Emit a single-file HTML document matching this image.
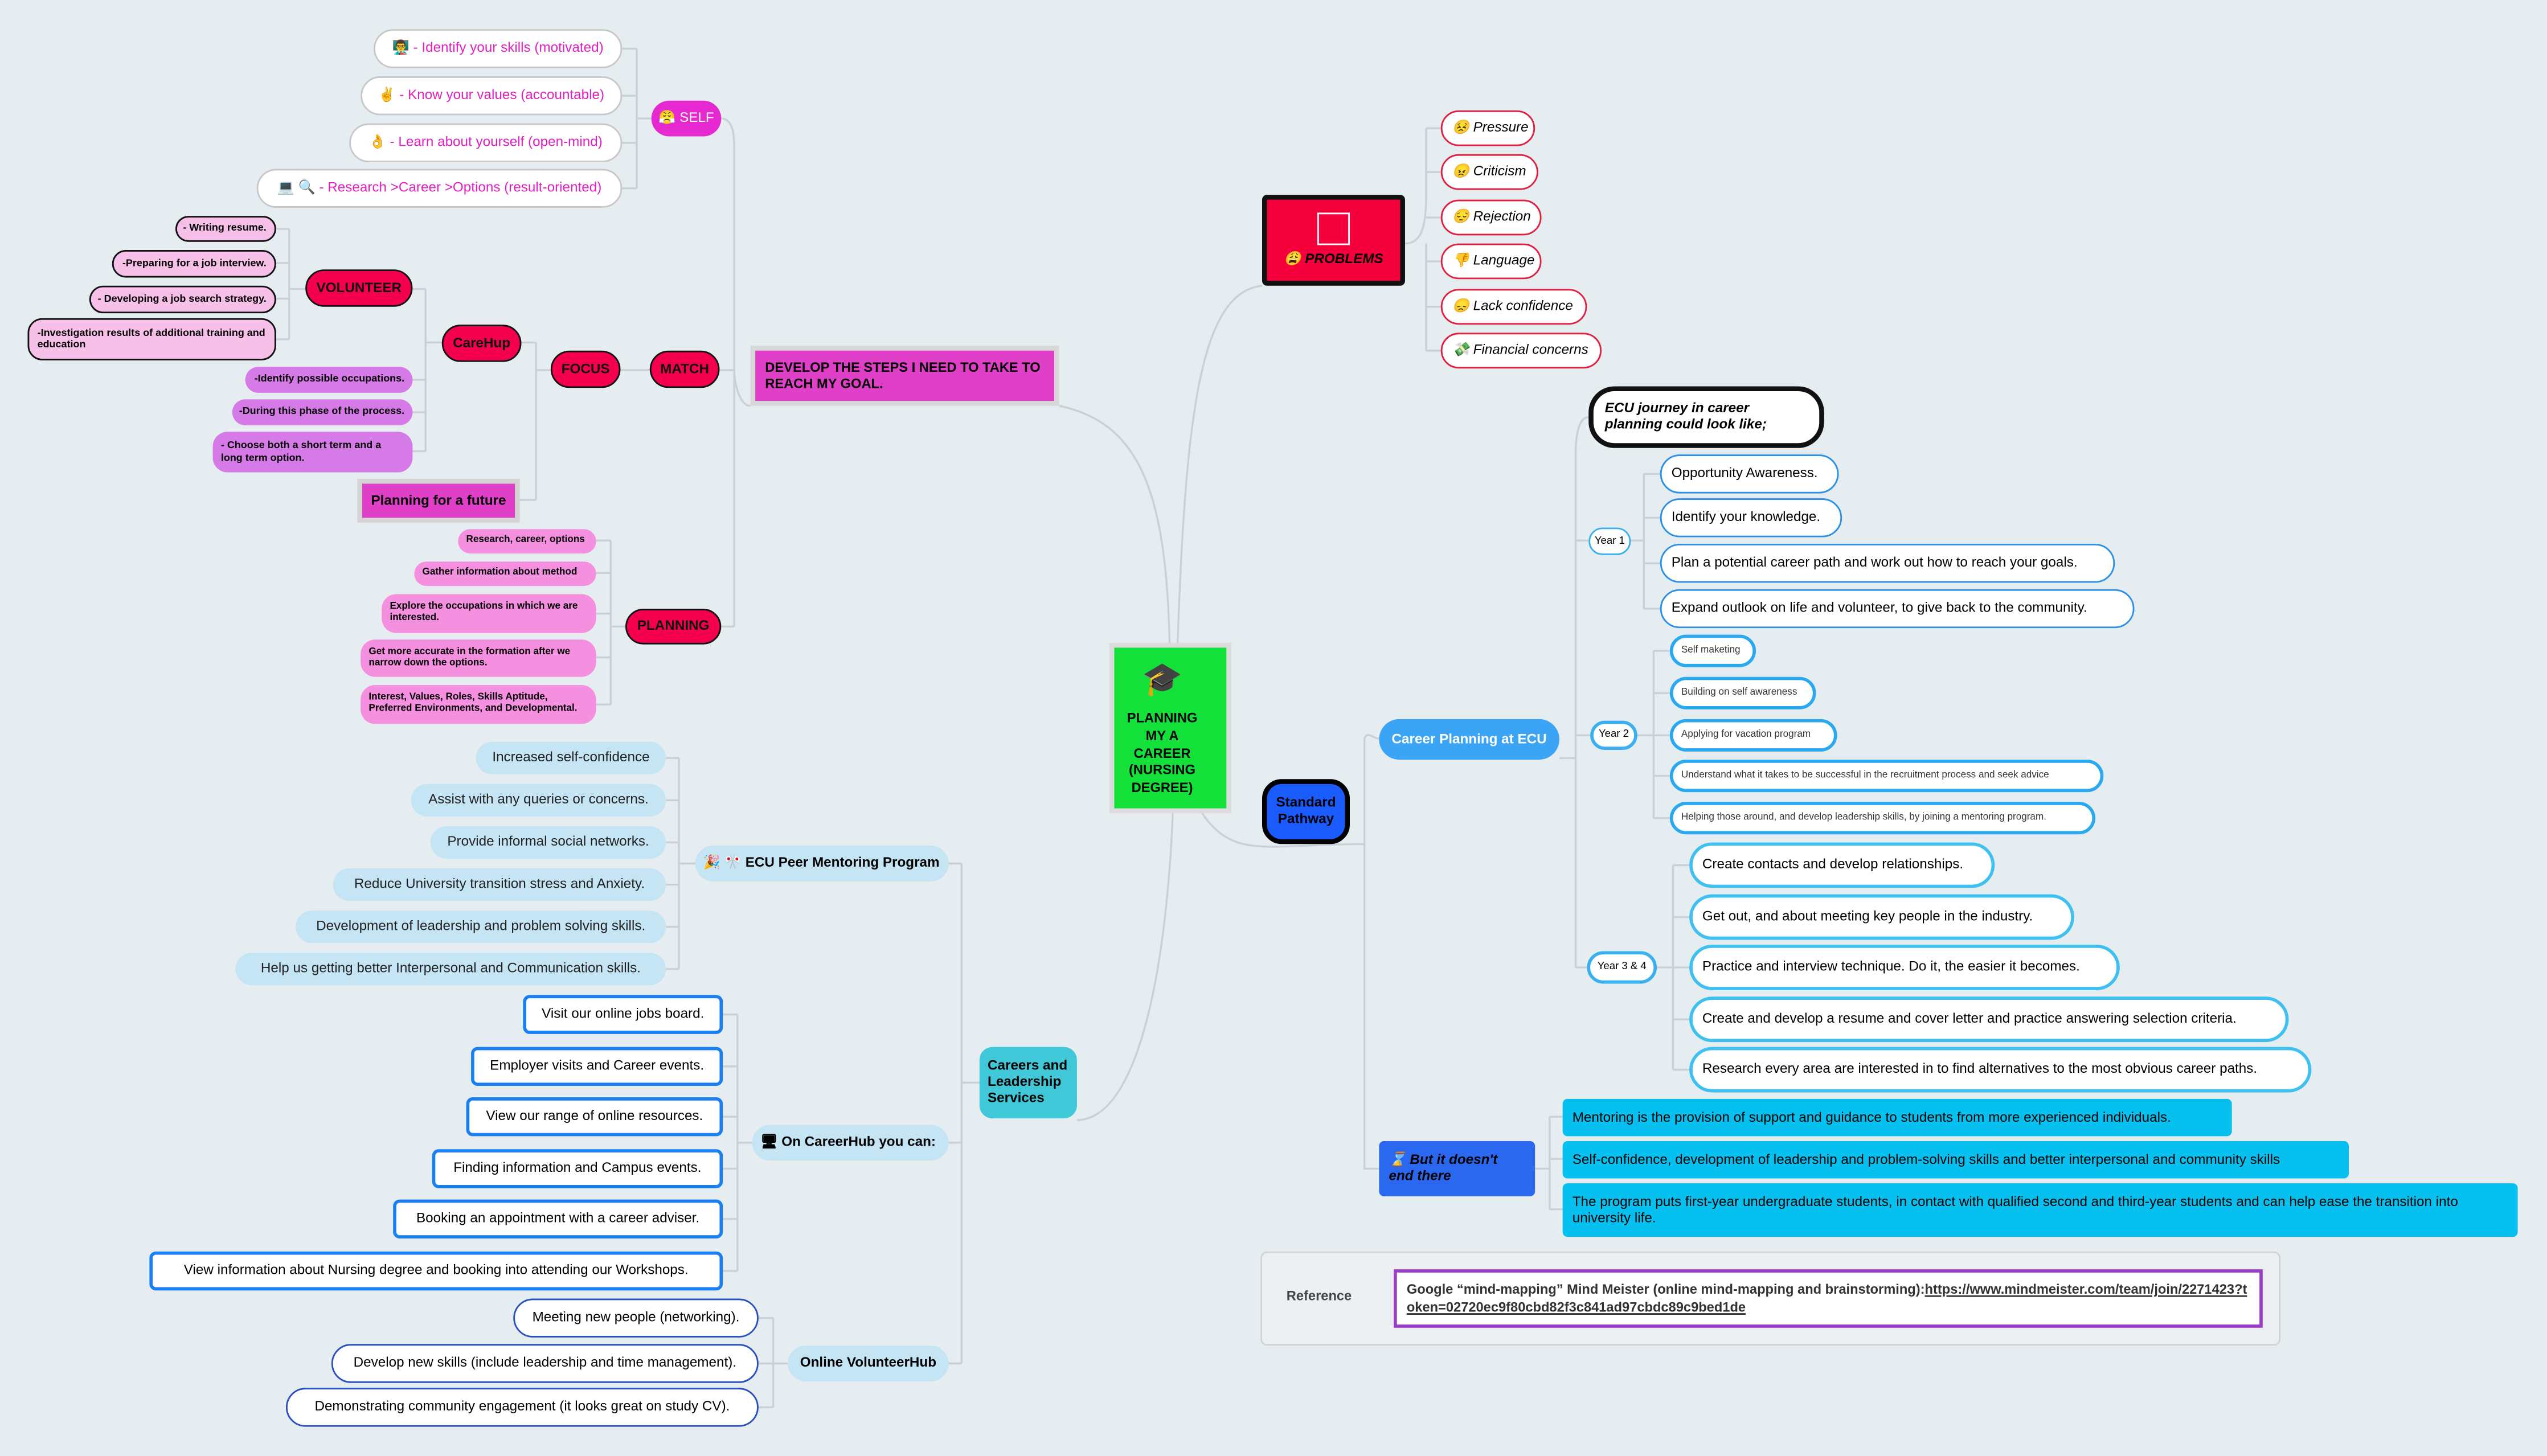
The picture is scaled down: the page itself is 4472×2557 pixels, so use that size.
<!DOCTYPE html>
<html><head><meta charset="utf-8"><style>
html,body{margin:0;padding:0;}
body{width:4472px;height:2557px;overflow:hidden;background:#e5edf0;font-family:"Liberation Sans",sans-serif;}
#s{position:absolute;left:0;top:0;width:1568px;height:897px;transform:scale(2.852,2.8506);transform-origin:0 0;}
.n{position:absolute;display:flex;align-items:center;box-sizing:border-box;font-size:8.5px;white-space:nowrap;line-height:1.15;}
.c{justify-content:center;text-align:center;}
.r{background:#f5004e;border:1.5px solid #111;border-radius:12px;font-weight:bold;color:#111;justify-content:center;font-size:8.5px;}
.pk{background:#f7c0e8;border:1px solid #111;border-radius:9px;font-weight:bold;font-size:6.3px;padding:0 5px;justify-content:flex-end;}
.vi{background:#d67ae8;border-radius:9px;font-weight:bold;font-size:6.3px;padding:0 5px;justify-content:flex-end;}
.pl{background:#f590e0;border-radius:9px;font-weight:bold;font-size:6px;padding:0 5px;white-space:normal;}
.sf{background:#fff;border:1px solid #c8c8c8;border-radius:12px;color:#e020c0;padding:0 6px;justify-content:center;}
.pb{background:#fff;border:1px solid #e02040;border-radius:11px;font-style:italic;padding:0 6px;}
.y1{background:#fff;border:1px solid #2a90e8;border-radius:12px;padding:0 6px;}
.y2{background:#fff;border:2.5px solid #2aa8f0;border-radius:10px;padding:0 5px;font-size:6px;color:#333;}
.y3{background:#fff;border:2.5px solid #3ec0f0;border-radius:14px;padding:0 6px;}
.yp{background:#fff;border:1.5px solid #3ab0f0;border-radius:10px;font-size:6.5px;justify-content:center;}
.cy{background:#06c0f0;border-radius:3px;padding:0 6px;}
.lb{background:#c5e4f4;border-radius:10px;padding:0 6px;justify-content:center;color:#222;}
.ch{background:#fff;border:2.5px solid #1a7ff0;border-radius:4px;padding:0 6px;justify-content:center;}
.vh{background:#fff;border:1px solid #2a50c0;border-radius:12px;padding:0 6px;justify-content:center;}
</style></head><body><div id="s">
<svg width="1568" height="897" style="position:absolute;left:0;top:0" fill="none" stroke="#c9d1d6" stroke-width="1.2">
<path d="M720,396 C718,300 700,260 652,250"/>
<path d="M725,396 C730,250 740,180 777,176"/>
<path d="M740,501 C760,530 780,520 840,520 L840,455 C842,450 845,455 849,455"/>
<path d="M840,520 L840,720 C842,720 845,720 849,720"/>
<path d="M722,501 C718,600 700,690 663,690"/>
<path d="M865,150 C875,150 878,140 878,120 L878,79 M878,150 L878,216"/>
<path d="M878,79 H887 M878,106 H887 M878,134 H887 M878,161 H887 M878,189 H887 M878,216 H887"/>
<path d="M960,467 L970,467 M970,280 L970,596 M970,280 C970,268 972,257 978,257 M970,333 H978 M970,453 H979 M970,596 H977"/>
<path d="M1012,292 L1012,375 M1004,333 H1012 M1012,292 H1022 M1012,319 H1022 M1012,347 H1022 M1012,375 H1022"/>
<path d="M1018,401 L1018,504 M1008,453 H1018 M1018,401 H1028 M1018,427 H1028 M1018,453 H1028 M1018,478 H1028 M1018,504 H1028"/>
<path d="M1030,533 L1030,659 M1020,596 H1030 M1030,533 H1040 M1030,565 H1040 M1030,596 H1040 M1030,628 H1040 M1030,659 H1040"/>
<path d="M945,720 L954,720 M954,688 L954,745 M954,688 H962 M954,714 H962 M954,745 H962"/>
<path d="M462,250 C455,250 452,235 452,228 M444,73 C450,73 452,80 452,90 L452,386 M452,228 H443 M444,386 H452"/>
<path d="M400,228 H382"/>
<path d="M339,228 L330,228 M330,211 L330,308 M330,211 H321 M330,308 H320"/>
<path d="M272,211 H262 M262,178 L262,278 M254,178 H262 M254,234 H262 M254,254 H262 M254,278 H262"/>
<path d="M188,178 H178 M178,141 L178,209 M170,141 H178 M170,162 H178 M170,184 H178 M170,209 H178"/>
<path d="M385,386 H376 M376,333 L376,434 M367,333 H376 M367,353 H376 M367,378 H376 M367,405 H376 M367,434 H376"/>
<path d="M401,73 H392 M392,30 L392,116 M383,30 H392 M383,59 H392 M383,88 H392 M383,116 H392"/>
<path d="M603,667 H592 M592,532 L592,840 M584,532 H592 M584,704 H592 M584,840 H592"/>
<path d="M428,532 H418 M418,467 L418,597 M410,467 H418 M410,493 H418 M410,519 H418 M410,545 H418 M410,571 H418 M410,597 H418"/>
<path d="M463,704 H454 M454,625 L454,783 M445,625 H454 M445,657 H454 M445,688 H454 M445,720 H454 M445,751 H454 M445,783 H454"/>
<path d="M485,840 H476 M476,812 L476,867 M467,812 H476 M467,840 H476 M467,867 H476"/>
<path d="M784,812 H850"/>
</svg>

<div class="n" style="left:683px;top:396px;width:75px;height:105px;background:#dcdcdc"></div>
<div class="n c" style="left:686px;top:399px;width:69px;height:99px;background:#14e03a;flex-direction:column;font-weight:bold;font-size:8.3px;padding-top:8px;justify-content:flex-start;padding-right:10px">
<div style="font-size:20px;line-height:24px">🎓</div><div style="margin-top:6px;line-height:1.3">PLANNING<br>MY A<br>CAREER<br>(NURSING<br>DEGREE)</div></div>

<div class="n c" style="left:777px;top:120px;width:88px;height:56px;background:#f5003c;border:3px solid #111;border-radius:3px;font-weight:bold;font-style:italic;flex-direction:column">
<div style="width:18px;height:18px;border:1px solid #fff;margin-bottom:4px"></div><div>😩 PROBLEMS</div></div>
<div class="n pb" style="left:887px;top:68px;width:58px;height:22px">😣 Pressure</div>
<div class="n pb" style="left:887px;top:95px;width:60px;height:22px">😠 Criticism</div>
<div class="n pb" style="left:887px;top:123px;width:62px;height:22px">😔 Rejection</div>
<div class="n pb" style="left:887px;top:150px;width:62px;height:22px">👎 Language</div>
<div class="n pb" style="left:887px;top:178px;width:90px;height:22px">😞 Lack confidence</div>
<div class="n pb" style="left:887px;top:205px;width:99px;height:22px">💸 Financial concerns</div>

<div class="n" style="left:978px;top:238px;width:145px;height:38px;background:#fff;border:3px solid #111;border-radius:16px;font-weight:bold;font-style:italic;padding:0 7px;white-space:normal">ECU journey in career planning could look like;</div>
<div class="n yp" style="left:978px;top:325px;width:26px;height:17px">Year 1</div>
<div class="n y1" style="left:1022px;top:280px;width:110px;height:24px">Opportunity Awareness.</div>
<div class="n y1" style="left:1022px;top:307px;width:112px;height:24px">Identify your knowledge.</div>
<div class="n y1" style="left:1022px;top:335px;width:280px;height:24px">Plan a potential career path and work out how to reach your goals.</div>
<div class="n y1" style="left:1022px;top:363px;width:292px;height:24px">Expand outlook on life and volunteer, to give back to the community.</div>

<div class="n c" style="left:849px;top:443px;width:111px;height:25px;background:#3ba4f5;border-radius:13px;color:#fff;font-weight:bold">Career Planning at ECU</div>
<div class="n yp" style="left:979px;top:444px;width:29px;height:18px;border-width:2.5px">Year 2</div>
<div class="n y2" style="left:1028px;top:391px;width:53px;height:20px">Self maketing</div>
<div class="n y2" style="left:1028px;top:417px;width:90px;height:20px">Building on self awareness</div>
<div class="n y2" style="left:1028px;top:443px;width:103px;height:20px">Applying for vacation program</div>
<div class="n y2" style="left:1028px;top:468px;width:267px;height:20px">Understand what it takes to be successful in the recruitment process and seek advice</div>
<div class="n y2" style="left:1028px;top:494px;width:262px;height:20px">Helping those around, and develop leadership skills, by joining a mentoring program.</div>

<div class="n yp" style="left:977px;top:586px;width:43px;height:20px;border-width:2.5px">Year 3 &amp; 4</div>
<div class="n y3" style="left:1040px;top:519px;width:188px;height:28px">Create contacts and develop relationships.</div>
<div class="n y3" style="left:1040px;top:551px;width:237px;height:28px">Get out, and about meeting key people in the industry.</div>
<div class="n y3" style="left:1040px;top:582px;width:265px;height:28px">Practice and interview technique. Do it, the easier it becomes.</div>
<div class="n y3" style="left:1040px;top:614px;width:369px;height:28px">Create and develop a resume and cover letter and practice answering selection criteria.</div>
<div class="n y3" style="left:1040px;top:645px;width:383px;height:28px">Research every area are interested in to find alternatives to the most obvious career paths.</div>

<div class="n c" style="left:777px;top:480px;width:54px;height:40px;background:#1a5cff;border:3px solid #000;border-radius:12px;font-weight:bold;font-size:8.5px">Standard<br>Pathway</div>

<div class="n" style="left:849px;top:703px;width:96px;height:34px;background:#2b68f0;border-radius:3px;font-weight:bold;font-style:italic;padding:0 6px;white-space:normal">⌛ But it doesn't end there</div>
<div class="n cy" style="left:962px;top:677px;width:412px;height:23px">Mentoring is the provision of support and guidance to students from more experienced individuals.</div>
<div class="n cy" style="left:962px;top:703px;width:484px;height:23px">Self-confidence, development of leadership and problem-solving skills and better interpersonal and community skills</div>
<div class="n cy" style="left:962px;top:729px;width:588px;height:33px;white-space:normal">The program puts first-year undergraduate students, in contact with qualified second and third-year students and can help ease the transition into university life.</div>

<div class="n" style="left:776px;top:771px;width:628px;height:58px;background:#eceff1;border:1px solid #d0d4d6;border-radius:4px"></div>
<div class="n" style="left:792px;top:794px;font-weight:bold;color:#444;font-size:8.3px">Reference</div>
<div style="position:absolute;left:858px;top:782px;width:535px;height:36px;box-sizing:border-box;background:#fff;border:2px solid #9b3dc8;padding:5px 6px 0;font-weight:bold;font-size:8.3px;line-height:1.3;color:#333;word-break:break-all">Google “mind-mapping” Mind Meister (online mind-mapping and brainstorming):<u>https://www.mindmeister.com/team/join/2271423?token=02720ec9f80cbd82f3c841ad97cbdc89c9bed1de</u></div>

<div class="n" style="left:462px;top:213px;width:190px;height:37px;background:#d8d8d8"></div>
<div class="n" style="left:465px;top:216px;width:184px;height:31px;background:#e040c8;font-weight:bold;padding:0 6px;white-space:normal;font-size:8.3px">DEVELOP THE STEPS I NEED TO TAKE TO REACH MY GOAL.</div>
<div class="n r" style="left:400px;top:216px;width:43px;height:23px">MATCH</div>
<div class="n r" style="left:339px;top:216px;width:43px;height:23px">FOCUS</div>
<div class="n r" style="left:272px;top:200px;width:49px;height:23px">CareHup</div>
<div class="n r" style="left:188px;top:166px;width:66px;height:23px">VOLUNTEER</div>
<div class="n pk" style="left:108px;top:133px;width:62px;height:16px">- Writing resume.</div>
<div class="n pk" style="left:69px;top:154px;width:101px;height:17px">-Preparing for a job interview.</div>
<div class="n pk" style="left:55px;top:176px;width:115px;height:17px">- Developing a job search strategy.</div>
<div class="n pk" style="left:17px;top:196px;width:153px;height:26px;white-space:normal;justify-content:flex-start">-Investigation results of additional training and education</div>
<div class="n vi" style="left:151px;top:226px;width:103px;height:16px">-Identify possible occupations.</div>
<div class="n vi" style="left:143px;top:246px;width:111px;height:16px">-During this phase of the process.</div>
<div class="n vi" style="left:131px;top:266px;width:123px;height:25px;white-space:normal;justify-content:flex-start">- Choose both a short term and a long term option.</div>
<div class="n" style="left:220px;top:295px;width:100px;height:27px;background:#d4d4d4"></div>
<div class="n c" style="left:223px;top:298px;width:94px;height:21px;background:#e040c8;font-weight:bold">Planning for a future</div>
<div class="n r" style="left:385px;top:375px;width:59px;height:22px">PLANNING</div>
<div class="n pl" style="left:282px;top:326px;width:85px;height:15px">Research, career, options</div>
<div class="n pl" style="left:255px;top:346px;width:112px;height:15px">Gather information about method</div>
<div class="n pl" style="left:235px;top:366px;width:132px;height:24px">Explore the occupations in which we are interested.</div>
<div class="n pl" style="left:222px;top:394px;width:145px;height:23px">Get more accurate in the formation after we narrow down the options.</div>
<div class="n pl" style="left:222px;top:422px;width:145px;height:24px">Interest, Values, Roles, Skills Aptitude, Preferred Environments, and Developmental.</div>
<div class="n c" style="left:401px;top:62px;width:43px;height:22px;background:#e628d0;border-radius:11px;color:#fff">😤 SELF</div>
<div class="n sf" style="left:230px;top:18px;width:153px;height:24px">👨‍🏫 - Identify your skills (motivated)</div>
<div class="n sf" style="left:222px;top:47px;width:161px;height:24px">✌ - Know your values (accountable)</div>
<div class="n sf" style="left:215px;top:76px;width:168px;height:24px">👌 - Learn about yourself (open-mind)</div>
<div class="n sf" style="left:158px;top:104px;width:225px;height:24px">💻 🔍 - Research &gt;Career &gt;Options (result-oriented)</div>

<div class="n c" style="left:603px;top:645px;width:60px;height:44px;background:#40c8d8;border-radius:8px;font-weight:bold;justify-content:flex-start;padding-left:5px;text-align:left">Careers and<br>Leadership<br>Services</div>
<div class="n" style="left:428px;top:521px;width:156px;height:22px;background:#c5e4f4;border-radius:11px;font-weight:bold;padding:0 5px">🎉 🎌 ECU Peer Mentoring Program</div>
<div class="n lb" style="left:293px;top:457px;width:117px;height:20px">Increased self-confidence</div>
<div class="n lb" style="left:253px;top:483px;width:157px;height:20px">Assist with any queries or concerns.</div>
<div class="n lb" style="left:265px;top:509px;width:145px;height:20px">Provide informal social networks.</div>
<div class="n lb" style="left:205px;top:535px;width:205px;height:20px">Reduce University transition stress and Anxiety.</div>
<div class="n lb" style="left:182px;top:561px;width:228px;height:20px">Development of leadership and problem solving skills.</div>
<div class="n lb" style="left:145px;top:587px;width:265px;height:20px">Help us getting better Interpersonal and Communication skills.</div>
<div class="n" style="left:463px;top:693px;width:121px;height:22px;background:#c5e4f4;border-radius:11px;font-weight:bold;padding:0 5px">🖥 On CareerHub you can:</div>
<div class="n ch" style="left:322px;top:613px;width:123px;height:24px">Visit our online jobs board.</div>
<div class="n ch" style="left:290px;top:645px;width:155px;height:24px">Employer visits and Career events.</div>
<div class="n ch" style="left:287px;top:676px;width:158px;height:24px">View our range of online resources.</div>
<div class="n ch" style="left:266px;top:708px;width:179px;height:24px">Finding information and Campus events.</div>
<div class="n ch" style="left:242px;top:739px;width:203px;height:24px">Booking an appointment with a career adviser.</div>
<div class="n ch" style="left:92px;top:771px;width:353px;height:24px">View information about Nursing degree and booking into attending our Workshops.</div>
<div class="n c" style="left:485px;top:829px;width:99px;height:22px;background:#c5e4f4;border-radius:11px;font-weight:bold">Online VolunteerHub</div>
<div class="n vh" style="left:316px;top:800px;width:151px;height:24px">Meeting new people (networking).</div>
<div class="n vh" style="left:204px;top:828px;width:263px;height:24px">Develop new skills (include leadership and time management).</div>
<div class="n vh" style="left:176px;top:855px;width:291px;height:24px">Demonstrating community engagement (it looks great on study CV).</div>
</div></body></html>
